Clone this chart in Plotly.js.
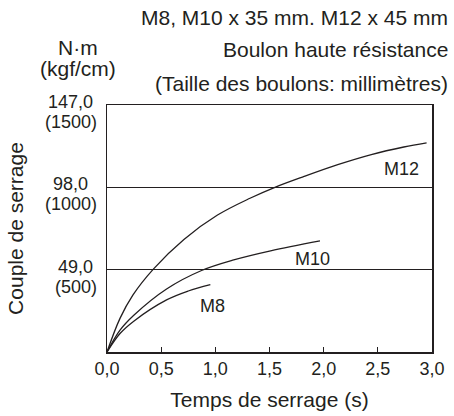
<!DOCTYPE html>
<html>
<head>
<meta charset="utf-8">
<script src="https://cdn.plot.ly/plotly-3.0.1.min.js"></script>
<style>html,body{margin:0;padding:0;background:#fff;}#chart{width:454px;height:416px;}</style>
</head>
<body>
<div id="chart"></div>
<script>
// ---- data ----
const timeM8 = [0, 0.12, 0.25, 0.55, 0.75, 0.954];
const torqueM8 = [0, 11, 18.5, 31, 36.3, 40.1];
const timeM10 = [0, 0.12, 0.25, 0.55, 0.873, 1.17, 1.51, 1.966];
const torqueM10 = [0, 13, 22, 37.5, 48.5, 54.8, 60.2, 66.1];
const timeM12 = [0, 0.12, 0.24, 0.43, 0.71, 1.02, 1.32, 1.55, 1.82, 2.13, 2.44, 2.74, 2.95];
const torqueM12 = [0, 20, 34, 49.5, 67, 81.5, 91.5, 98, 104.5, 111.5, 117.5, 122, 124.5];
const seriesNames = ["M8", "M10", "M12"];
const xTickVals = [0, 0.5, 1, 1.5, 2, 2.5, 3];
const xTickText = ["0,0", "0,5", "1,0", "1,5", "2,0", "2,5", "3,0"];
const yTickVals = [49, 98, 147];
const yTickNm = ["49,0", "98,0", "147,0"];
const yTickKgf = ["(500)", "(1000)", "(1500)"];
const headerLines = ["M8, M10 x 35 mm. M12 x 45 mm", "Boulon haute résistance", "(Taille des boulons: millimètres)"];
const unitLines = ["N·m", "(kgf/cm)"];

// ---- layout helpers ----
const FONT = "Liberation Sans, Arial, Helvetica, sans-serif";
const INK = "#231f20";
const W = 454, H = 416;
const M = {l: 107, r: 22, t: 105, b: 64};
const PW = W - M.l - M.r, PH = H - M.t - M.b;
const px2paperX = px => (px - M.l) / PW;
const py2paperY = py => (H - M.b - py) / PH;

const cv = document.createElement("canvas").getContext("2d");
cv.font = "18px 'Liberation Sans'";
const tw = s => cv.measureText(s).width;

const traces = [
  {x: timeM8, y: torqueM8, name: seriesNames[0]},
  {x: timeM10, y: torqueM10, name: seriesNames[1]},
  {x: timeM12, y: torqueM12, name: seriesNames[2]}
].map(t => Object.assign(t, {type: "scatter", mode: "lines",
  line: {color: INK, width: 1.3, shape: "spline", smoothing: 1}, hoverinfo: "skip"}));

const ann = [];
// header
const headerY = [18, 49.5, 83];
headerLines.forEach((s, i) => ann.push({text: s, xref: "paper", yref: "paper", x: px2paperX(450), y: py2paperY(headerY[i]),
  xanchor: "right", yanchor: "middle", showarrow: false, font: {size: 21, color: INK, family: FONT}}));
// units
const unitY = [47, 68];
unitLines.forEach((s, i) => ann.push({text: s, xref: "paper", yref: "paper", x: px2paperX(78), y: py2paperY(unitY[i]),
  xanchor: "center", yanchor: "middle", showarrow: false, font: {size: 21, color: INK, family: FONT}}));
// y tick labels (two lines, centred block, right edge at 97px)
yTickVals.forEach((v, i) => {
  const w2 = tw(yTickKgf[i]);
  const cx = 97 - w2 / 2;
  ann.push({text: yTickNm[i], xref: "paper", yref: "y", x: px2paperX(cx), y: v, yshift: 3,
    xanchor: "center", yanchor: "middle", showarrow: false, font: {size: 18, color: INK, family: FONT}});
  ann.push({text: yTickKgf[i], xref: "paper", yref: "y", x: px2paperX(cx), y: v, yshift: -17,
    xanchor: "center", yanchor: "middle", showarrow: false, font: {size: 18, color: INK, family: FONT}});
});
// curve labels
const curveLabelPos = [[0.977, 27.2], [1.90, 55.5], [2.72, 109.1]];
seriesNames.forEach((s, i) => ann.push({text: s, xref: "x", yref: "y", x: curveLabelPos[i][0], y: curveLabelPos[i][1],
  xanchor: "center", yanchor: "middle", showarrow: false, font: {size: 18, color: INK, family: FONT}}));

const layout = {
  width: W, height: H,
  margin: M,
  paper_bgcolor: "#fff", plot_bgcolor: "#fff",
  showlegend: false,
  font: {family: FONT, color: INK, size: 18},
  xaxis: {
    range: [0, 3], fixedrange: true,
    tickmode: "array", tickvals: xTickVals, ticktext: xTickText,
    ticks: "inside", ticklen: 5, tickwidth: 1.3, tickcolor: INK,
    tickfont: {size: 18, color: INK, family: FONT},
    showline: true, linecolor: INK, linewidth: 1.5, mirror: true,
    showgrid: false, zeroline: false,
    title: {text: "Temps de serrage (s)", font: {size: 21, color: INK, family: FONT}, standoff: 14}
  },
  yaxis: {
    range: [0, 147], fixedrange: true,
    tickmode: "array", tickvals: yTickVals, showticklabels: false,
    ticks: "",
    showline: true, linecolor: INK, linewidth: 1.5, mirror: true,
    showgrid: true, gridcolor: INK, gridwidth: 1.3, zeroline: false,
    title: {text: "Couple de serrage", font: {size: 21, color: INK, family: FONT}, standoff: 76}
  },
  annotations: ann
};

Plotly.newPlot("chart", traces, layout, {staticPlot: true, displayModeBar: false});
</script>
</body>
</html>
